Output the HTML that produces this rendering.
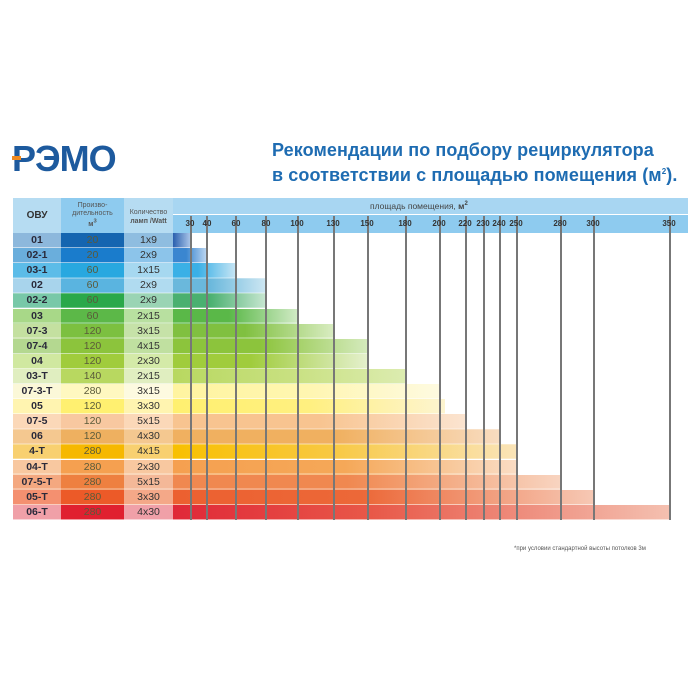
<!DOCTYPE html>
<html><head><meta charset="utf-8"><style>
body{margin:0;width:700px;height:700px;background:#fff;position:relative;overflow:hidden;font-family:"Liberation Sans",sans-serif}
div{position:absolute;box-sizing:border-box}
.c{text-align:center;font-size:10.5px;line-height:15px;height:15.1px;color:#333}
.o{left:13px;width:48px;font-weight:bold;color:#2a2a3a}
.p{left:61px;width:63px;color:#5a5a3a}
.l{left:124px;width:49px}
.b{left:173px;height:15.1px}
.v{top:216px;height:304px;width:1.5px;background:#777}
.t{top:219px;font-size:8px;font-weight:bold;color:#333;width:30px;margin-left:-15px;text-align:center}
</style></head><body>
<div style="left:12px;top:138px;font-size:36px;font-weight:bold;color:#1d5a9e;letter-spacing:-1px;font-family:'Liberation Sans',sans-serif">РЭМО</div>
<div style="left:12px;top:156px;width:9px;height:4px;background:#f08a20"></div>
<div style="left:272px;top:139px;font-size:18px;font-weight:bold;color:#1e6cb2;line-height:22px;white-space:nowrap;letter-spacing:0.1px">Рекомендации по подбору рециркулятора<br>в соответствии с площадью помещения (м<sup style="font-size:8px">2</sup>).</div>

<div style="left:13px;top:198px;width:675px;height:35px;background:#a8d6f2"></div>
<div style="left:173px;top:215px;width:515px;height:18px;background:#8ecbef"></div>
<div style="left:173px;top:214px;width:515px;height:1px;background:#fff"></div>
<div style="left:13px;top:198px;width:48px;height:35px;background:#b6dcf2;font-size:10px;font-weight:bold;text-align:center;line-height:35px;color:#333">ОВУ</div>
<div style="left:61px;top:198px;width:63px;height:35px;background:#8ecbef;font-size:7px;text-align:center;line-height:8px;padding-top:4px;color:#555">Произво-<br>дительность<br><b>м<sup>3</sup></b></div>
<div style="left:124px;top:198px;width:49px;height:35px;background:#b6dcf2;font-size:7px;text-align:center;line-height:9px;padding-top:10px;color:#555">Количество<br><b>ламп /Watt</b></div>
<div style="left:370px;top:201px;font-size:8.5px;color:#444">площадь помещения, <b>м<sup style="font-size:6px">2</sup></b></div>

<div class="c o" style="top:233px;background:#8db8dc">01</div><div class="c p" style="top:233px;background:#1565b0">20</div><div class="c l" style="top:233px;background:#8fbde0">1x9</div><div class="b" style="top:233px;width:17px;background:linear-gradient(90deg,#2a5fae,#a8c4e8)"></div>
<div class="c o" style="top:248.1px;background:#6aaedc">02-1</div><div class="c p" style="top:248.1px;background:#1a7ccc">20</div><div class="c l" style="top:248.1px;background:#8cc4ea">2x9</div><div class="b" style="top:248.1px;width:33px;background:linear-gradient(90deg,#3a86d0,#3a86d0 40%,#b8d4f0)"></div>
<div class="c o" style="top:263.2px;background:#5cbce8">03-1</div><div class="c p" style="top:263.2px;background:#28a8e0">60</div><div class="c l" style="top:263.2px;background:#a6d8f0">1x15</div><div class="b" style="top:263.2px;width:62px;background:linear-gradient(90deg,#3ab0e6,#3ab0e6 40%,#c4e4f4)"></div>
<div class="c o" style="top:278.3px;background:#a8d4ec">02</div><div class="c p" style="top:278.3px;background:#5ab4e0">60</div><div class="c l" style="top:278.3px;background:#b0dbf0">2x9</div><div class="b" style="top:278.3px;width:92px;background:linear-gradient(90deg,#6ab8dc,#6ab8dc 40%,#cce6f2)"></div>
<div class="c o" style="top:293.4px;background:#78c8a8">02-2</div><div class="c p" style="top:293.4px;background:#2aa84a">60</div><div class="c l" style="top:293.4px;background:#9ad4b4">2x9</div><div class="b" style="top:293.4px;width:92px;background:linear-gradient(90deg,#4ab070,#4ab070 40%,#c6e6d0)"></div>
<div class="c o" style="top:308.5px;background:#a8d888">03</div><div class="c p" style="top:308.5px;background:#5cb848">60</div><div class="c l" style="top:308.5px;background:#b8e0a0">2x15</div><div class="b" style="top:308.5px;width:124px;background:linear-gradient(90deg,#5ab848,#5ab848 45%,#d0eac4)"></div>
<div class="c o" style="top:323.6px;background:#c4e0a0">07-3</div><div class="c p" style="top:323.6px;background:#7cc040">120</div><div class="c l" style="top:323.6px;background:#c6e2a8">3x15</div><div class="b" style="top:323.6px;width:160px;background:linear-gradient(90deg,#80c040,#80c040 45%,#d8ecc0)"></div>
<div class="c o" style="top:338.7px;background:#b4d890">07-4</div><div class="c p" style="top:338.7px;background:#8cc43c">120</div><div class="c l" style="top:338.7px;background:#c0e0a0">4x15</div><div class="b" style="top:338.7px;width:194px;background:linear-gradient(90deg,#8cc43c,#8cc43c 45%,#d4eabc)"></div>
<div class="c o" style="top:353.8px;background:#d0e8a0">04</div><div class="c p" style="top:353.8px;background:#a0cc3c">120</div><div class="c l" style="top:353.8px;background:#d4eaa8">2x30</div><div class="b" style="top:353.8px;width:194px;background:linear-gradient(90deg,#a0cc3c,#a0cc3c 40%,#e4f0cc)"></div>
<div class="c o" style="top:368.9px;background:#e0eec0">03-T</div><div class="c p" style="top:368.9px;background:#b8d860">140</div><div class="c l" style="top:368.9px;background:#e0eec0">2x15</div><div class="b" style="top:368.9px;width:232px;background:linear-gradient(90deg,#b8d860,#c8e080 50%,#dcecb0)"></div>
<div class="c o" style="top:384px;background:#fbf8d8">07-3-T</div><div class="c p" style="top:384px;background:#fff8c0">280</div><div class="c l" style="top:384px;background:#fdfae0">3x15</div><div class="b" style="top:384px;width:266px;background:linear-gradient(90deg,#fff4a0,#fff6b0 50%,#fefae0)"></div>
<div class="c o" style="top:399.1px;background:#fff4b0">05</div><div class="c p" style="top:399.1px;background:#fff070">120</div><div class="c l" style="top:399.1px;background:#fff4b0">3x30</div><div class="b" style="top:399.1px;width:272px;background:linear-gradient(90deg,#fff070,#fff080 50%,#fdf4d0)"></div>
<div class="c o" style="top:414.2px;background:#fbd8b8">07-5</div><div class="c p" style="top:414.2px;background:#f8c8a0">120</div><div class="c l" style="top:414.2px;background:#fbd8b8">5x15</div><div class="b" style="top:414.2px;width:292px;background:linear-gradient(90deg,#f8c490,#f8c490 50%,#fbe4d0)"></div>
<div class="c o" style="top:429.3px;background:#f4c890">06</div><div class="c p" style="top:429.3px;background:#eeb060">120</div><div class="c l" style="top:429.3px;background:#f4c890">4x30</div><div class="b" style="top:429.3px;width:326px;background:linear-gradient(90deg,#f0b060,#f0b060 50%,#f8dcc0)"></div>
<div class="c o" style="top:444.4px;background:#f8d070">4-T</div><div class="c p" style="top:444.4px;background:#f6b800">280</div><div class="c l" style="top:444.4px;background:#f8d070">4x15</div><div class="b" style="top:444.4px;width:343px;background:linear-gradient(90deg,#f8c000,#f8c840 45%,#fae4b8)"></div>
<div class="c o" style="top:459.5px;background:#f8c8a0">04-T</div><div class="c p" style="top:459.5px;background:#f5a050">280</div><div class="c l" style="top:459.5px;background:#f8c8a0">2x30</div><div class="b" style="top:459.5px;width:343px;background:linear-gradient(90deg,#f5a050,#f5a858 50%,#fadcc4)"></div>
<div class="c o" style="top:474.6px;background:#f4a880">07-5-T</div><div class="c p" style="top:474.6px;background:#ee8040">280</div><div class="c l" style="top:474.6px;background:#f4b898">5x15</div><div class="b" style="top:474.6px;width:387px;background:linear-gradient(90deg,#f08850,#f08850 45%,#f8d4c0)"></div>
<div class="c o" style="top:489.7px;background:#f49070">05-T</div><div class="c p" style="top:489.7px;background:#ec5a28">280</div><div class="c l" style="top:489.7px;background:#f4a888">3x30</div><div class="b" style="top:489.7px;width:420px;background:linear-gradient(90deg,#ec6030,#ec6838 45%,#f6c8b4)"></div>
<div class="c o" style="top:504.8px;background:#f0a0a8">06-T</div><div class="c p" style="top:504.8px;background:#e02030">280</div><div class="c l" style="top:504.8px;background:#f0a0a8">4x30</div><div class="b" style="top:504.8px;width:496px;background:linear-gradient(90deg,#e02838,#e85848 40%,#f4c0b0)"></div>

<div style="left:13px;top:233px;width:675px;height:287px;background:repeating-linear-gradient(180deg,transparent 0,transparent 14.1px,rgba(255,255,255,.55) 14.1px,rgba(255,255,255,.55) 15.1px)"></div>

<div class="v" style="left:190px"></div><div class="v" style="left:206px"></div><div class="v" style="left:235px"></div><div class="v" style="left:265px"></div><div class="v" style="left:297px"></div><div class="v" style="left:333px"></div><div class="v" style="left:367px"></div><div class="v" style="left:405px"></div><div class="v" style="left:439px"></div><div class="v" style="left:465px"></div><div class="v" style="left:483px"></div><div class="v" style="left:499px"></div><div class="v" style="left:516px"></div><div class="v" style="left:560px"></div><div class="v" style="left:593px"></div><div class="v" style="left:669px"></div>
<div class="t" style="left:190px">30</div><div class="t" style="left:207px">40</div><div class="t" style="left:236px">60</div><div class="t" style="left:266px">80</div><div class="t" style="left:297px">100</div><div class="t" style="left:333px">130</div><div class="t" style="left:367px">150</div><div class="t" style="left:405px">180</div><div class="t" style="left:439px">200</div><div class="t" style="left:465px">220</div><div class="t" style="left:483px">230</div><div class="t" style="left:499px">240</div><div class="t" style="left:516px">250</div><div class="t" style="left:560px">280</div><div class="t" style="left:593px">300</div><div class="t" style="left:669px">350</div>

<div style="left:514px;top:546px;font-size:6px;color:#555;white-space:nowrap">*при условии стандартной высоты потолков 3м</div>
</body></html>
